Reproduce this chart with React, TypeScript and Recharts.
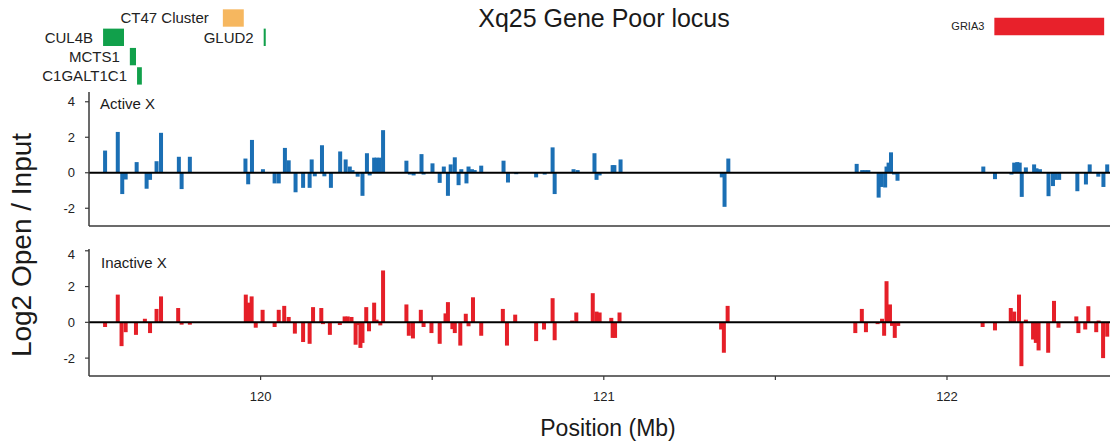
import React from "react";
import { ComposedChart, Bar, XAxis, YAxis, ReferenceLine, ReferenceArea } from "recharts";

const FONT = '"Liberation Sans", Arial, Helvetica, sans-serif';
const WIDTH = 1110;
const PLOT_LEFT = 89;

// Genomic window shown on every track (Mb)
const X_DOMAIN: [number, number] = [119.5, 122.475];
const X_TICKS = [120, 120.5, 121, 121.5, 122];

// Log2 open / input ratio per probe, active X
const activePos = [
  119.547, 119.584, 119.597, 119.607, 119.639, 119.668, 119.678, 119.697, 119.71, 119.762,
  119.77, 119.794, 119.956, 119.964, 119.975, 120.007, 120.041, 120.053, 120.071, 120.082,
  120.102, 120.124, 120.143, 120.149, 120.158, 120.179, 120.186, 120.205, 120.232, 120.248,
  120.26, 120.268, 120.283, 120.297, 120.31, 120.318, 120.331, 120.338, 120.347, 120.357,
  120.425, 120.435, 120.446, 120.469, 120.475, 120.501, 120.522, 120.534, 120.546, 120.554,
  120.566, 120.577, 120.585, 120.6, 120.606, 120.616, 120.624, 120.643, 120.708, 120.721,
  120.745, 120.803, 120.828, 120.851, 120.857, 120.912, 120.924, 120.973, 120.979, 120.988,
  121.026, 121.031, 121.049, 121.344, 121.352, 121.363, 121.737, 121.753, 121.762, 121.771,
  121.801, 121.809, 121.82, 121.824, 121.83, 121.837, 121.846, 121.856, 122.106, 122.14,
  122.188, 122.196, 122.205, 122.212, 122.218, 122.23, 122.254, 122.261, 122.271, 122.296,
  122.309, 122.317, 122.327, 122.38, 122.405, 122.416, 122.441, 122.456, 122.467,
];
const activeVal = [
  1.25, 2.3, -1.2, -0.38, 0.6, -0.9, -0.4, 0.65, 2.25, 0.9,
  -0.92, 0.9, 0.8, -0.65, 1.85, 0.2, -0.6, -0.6, 1.4, 0.7,
  -1.1, -0.85, -0.85, 0.75, -0.2, 1.55, -0.2, -0.85, 1.2, 0.75,
  0.35, 0.15, -0.22, -1.3, 1.1, -0.15, 0.85, 0.85, 0.85, 2.4,
  0.68, -0.1, -0.15, 1.05, -0.1, 0.53, -0.57, 0.35, -1.3, 0.47,
  0.87, -0.7, 0.2, -0.6, 0.35, 0.2, 0.15, 0.4, 0.68, -0.55,
  -0.08, -0.26, -0.1, 1.43, -1.2, 0.2, 0.15, 1.1, -0.4, -0.15,
  0.43, 0.43, 0.75, -0.26, -1.92, 0.8, 0.5, 0.15, 0.15, 0.15,
  -1.4, -0.8, -0.83, 0.35, 0.57, 1.15, -0.1, -0.45, 0.35, -0.36,
  -0.1, 0.57, 0.6, 0.57, -1.36, 0.3, 0.47, 0.25, 0.2, -1.32,
  -0.75, -0.4, -0.4, -1.04, -0.66, 0.47, -0.22, -0.8, 0.47,
];

// Same measure, inactive X
const inactivePos = [
  119.547, 119.584, 119.595, 119.607, 119.637, 119.663, 119.678, 119.697, 119.71, 119.76,
  119.77, 119.794, 119.957, 119.964, 119.974, 119.986, 120.006, 120.041, 120.053, 120.069,
  120.082, 120.1, 120.124, 120.143, 120.153, 120.177, 120.182, 120.202, 120.231, 120.245,
  120.254, 120.265, 120.277, 120.284, 120.291, 120.297, 120.308, 120.316, 120.331, 120.338,
  120.349, 120.357, 120.425, 120.432, 120.444, 120.467, 120.475, 120.498, 120.522, 120.539,
  120.546, 120.559, 120.566, 120.582, 120.598, 120.606, 120.619, 120.643, 120.706, 120.718,
  120.742, 120.803, 120.826, 120.851, 120.857, 120.908, 120.92, 120.968, 120.979, 120.988,
  121.022, 121.026, 121.033, 121.046, 121.342, 121.35, 121.361, 121.733, 121.752, 121.764,
  121.798, 121.811, 121.817, 121.824, 121.834, 121.84, 121.848, 121.858, 122.104, 122.14,
  122.186, 122.196, 122.21, 122.217, 122.23, 122.251, 122.259, 122.267, 122.295, 122.312,
  122.325, 122.377, 122.383, 122.403, 122.412, 122.435, 122.442, 122.455, 122.467,
];
const inactiveVal = [
  -0.26, 1.55, -1.33, -0.55, -0.7, 0.2, -0.6, 0.75, 1.45, 0.8,
  -0.13, -0.13, 1.55, 1.1, 1.45, -0.3, 0.7, -0.26, 0.7, 0.92,
  0.3, -0.63, -1.1, -1.2, 0.85, 0.8, -0.1, -0.7, -0.15, 0.33,
  0.33, 0.3, -1.25, -0.15, -1.43, -1.15, 0.85, -0.5, 1.1, 0.15,
  -0.17, 2.9, 1.0, -0.75, -0.9, 0.7, -0.26, -0.6, -1.2, 0.5,
  1.13, -0.38, -0.6, -1.3, 0.48, -0.22, 1.4, -0.75, 0.75, -1.3,
  0.43, -1.05, -0.4, 1.35, -1.0, 0.1, 0.55, 1.63, 0.6, 0.55,
  0.25, -0.87, -0.87, 0.55, -0.4, -1.7, 0.92, -0.6, 0.75, -0.55,
  -0.1, 0.2, -0.75, 2.3, 1.0, -0.2, -0.87, -0.2, -0.26, -0.45,
  0.8, 0.6, 1.55, -2.45, 0.15, -0.96, -1.15, -1.57, -1.7, 1.2,
  -0.3, 0.33, -0.6, -0.4, 0.9, -0.55, 0.1, -2.0, -0.8,
];

// Gene annotation track
const geneNames = ["CT47 Cluster", "CUL4B", "GLUD2", "MCTS1", "C1GALT1C1", "GRIA3"];
const geneStart = [119.89, 119.541, 120.009, 119.619, 119.64, 122.138];
const geneEnd = [119.951, 119.602, 120.015, 119.637, 119.654, 122.458];
const geneLane = [0, 1, 1, 2, 3, 0.44];

const GENE_FILL: Record<string, string> = {
  "CT47 Cluster": "#f6b75f",
  CUL4B: "#11a04b",
  GLUD2: "#11a04b",
  MCTS1: "#11a04b",
  C1GALT1C1: "#11a04b",
  GRIA3: "#e8212b",
};
const GENE_FONT: Record<string, number> = { GRIA3: 11 };
const GENE_GAP: Record<string, number> = { "CT47 Cluster": 14 };

const BLUE = "#1b6fb4";
const RED = "#e51f28";
const FRAME = "#3a3a3a";

function GeneLabel({ viewBox, text }: any) {
  const { x, y, height } = viewBox;
  return (
    <text
      x={x - (GENE_GAP[text] ?? 10)}
      y={y + height / 2}
      dy="0.36em"
      textAnchor="end"
      fontFamily={FONT}
      fontSize={GENE_FONT[text] ?? 15}
      fill="#222"
    >
      {text}
    </text>
  );
}

function GeneTrack() {
  return (
    <ComposedChart
      width={WIDTH}
      height={90}
      data={[]}
      margin={{ top: 0, right: 0, bottom: 0, left: PLOT_LEFT }}
    >
      <XAxis type="number" dataKey="pos" domain={X_DOMAIN} allowDataOverflow hide />
      <YAxis type="number" domain={[-0.933, 3.73]} reversed allowDataOverflow hide />
      {geneNames.map((name, i) => (
        <ReferenceArea
          key={name}
          x1={geneStart[i]}
          x2={geneEnd[i]}
          y1={geneLane[i] - 0.45}
          y2={geneLane[i] + 0.45}
          fill={GENE_FILL[name]}
          fillOpacity={1}
          stroke="none"
          label={<GeneLabel text={name} />}
        />
      ))}
    </ComposedChart>
  );
}

// Fixed-width bar centred on the probe position given by the x scale
function ProbeBar(props: any) {
  const { x, y, width, height, fill } = props;
  if (x == null || y == null) return null;
  const cx = x + width / 2;
  const top = Math.min(y, y + height);
  return <rect x={cx - 2} y={top} width={4} height={Math.abs(height)} fill={fill} />;
}

function YTick({ x, y, payload }: any) {
  const v = payload.value;
  if (v % 2 !== 0 || v < -2) return null;
  return (
    <text x={x} y={y} dy="0.36em" textAnchor="end" fontFamily={FONT} fontSize={13} fill="#222">
      {v}
    </text>
  );
}

function XTick({ x, y, payload }: any) {
  const v = payload.value;
  if (!Number.isInteger(v)) return null;
  return (
    <text x={x} y={y + 14} dy="0.36em" textAnchor="middle" fontFamily={FONT} fontSize={13} fill="#222">
      {v}
    </text>
  );
}

interface PanelProps {
  pos: number[];
  val: number[];
  color: string;
  yDomain: [number, number];
  plotHeight: number;
  withLabels: boolean;
}

function TrackPanel({ pos, val, color, yDomain, plotHeight, withLabels }: PanelProps) {
  const data = pos.map((p, i) => ({ pos: p, value: val[i] }));
  const axisH = withLabels ? 40 : 8;
  const yTicks: number[] = [];
  for (let t = Math.ceil(yDomain[0]); t <= yDomain[1]; t++) yTicks.push(t);
  return (
    <ComposedChart
      width={WIDTH}
      height={4 + plotHeight + axisH}
      data={data}
      margin={{ top: 4, right: 0, bottom: 0, left: 0 }}
    >
      <XAxis
        type="number"
        dataKey="pos"
        domain={X_DOMAIN}
        allowDataOverflow
        ticks={X_TICKS}
        height={axisH}
        tickSize={4}
        tickMargin={2}
        axisLine={{ stroke: FRAME, strokeWidth: 1.5 }}
        tickLine={{ stroke: FRAME, strokeWidth: 1.2 }}
        tick={withLabels ? <XTick /> : false}
      />
      <XAxis
        xAxisId="frame"
        orientation="top"
        type="number"
        dataKey="pos"
        domain={X_DOMAIN}
        allowDataOverflow
        height={0}
        tick={false}
        tickLine={false}
        axisLine={{ stroke: FRAME, strokeWidth: 1.5 }}
      />
      <YAxis
        type="number"
        domain={yDomain}
        allowDataOverflow
        ticks={yTicks}
        width={PLOT_LEFT}
        tickSize={4}
        tickMargin={10}
        axisLine={{ stroke: FRAME, strokeWidth: 1.5 }}
        tickLine={{ stroke: FRAME, strokeWidth: 1.2 }}
        tick={<YTick />}
      />
      <Bar dataKey="value" fill={color} shape={<ProbeBar />} isAnimationActive={false} />
      <ReferenceLine y={0} stroke="#000" strokeWidth={2} />
    </ComposedChart>
  );
}

const textBase: React.CSSProperties = {
  position: "absolute",
  fontFamily: FONT,
  color: "#1a1a1a",
  whiteSpace: "nowrap",
  lineHeight: 1,
};

export default function App() {
  return (
    <div
      style={{
        position: "absolute",
        left: 0,
        top: 0,
        width: WIDTH,
        height: 444,
        background: "#fff",
        overflow: "hidden",
      }}
    >
      <div style={{ position: "absolute", left: 0, top: 0 }}>
        <GeneTrack />
      </div>
      <div style={{ position: "absolute", left: 0, top: 88 }}>
        <TrackPanel pos={activePos} val={activeVal} color={BLUE} yDomain={[-3, 4.55]} plotHeight={134} withLabels={false} />
      </div>
      <div style={{ position: "absolute", left: 0, top: 245 }}>
        <TrackPanel pos={inactivePos} val={inactiveVal} color={RED} yDomain={[-3, 4.1]} plotHeight={127} withLabels />
      </div>

      <div style={{ ...textBase, left: 604, top: 18, fontSize: 25, transform: "translate(-50%, -50%)" }}>
        Xq25 Gene Poor locus
      </div>
      <div style={{ ...textBase, left: 100, top: 103, fontSize: 15, transform: "translateY(-50%)" }}>Active X</div>
      <div style={{ ...textBase, left: 101, top: 262, fontSize: 15, transform: "translateY(-50%)" }}>Inactive X</div>
      <div
        style={{
          ...textBase,
          left: 22,
          top: 245,
          fontSize: 28,
          transform: "translate(-50%, -50%) rotate(-90deg)",
        }}
      >
        Log2 Open / Input
      </div>
      <div style={{ ...textBase, left: 608, top: 428, fontSize: 23, transform: "translate(-50%, -50%)" }}>
        Position (Mb)
      </div>
    </div>
  );
}
